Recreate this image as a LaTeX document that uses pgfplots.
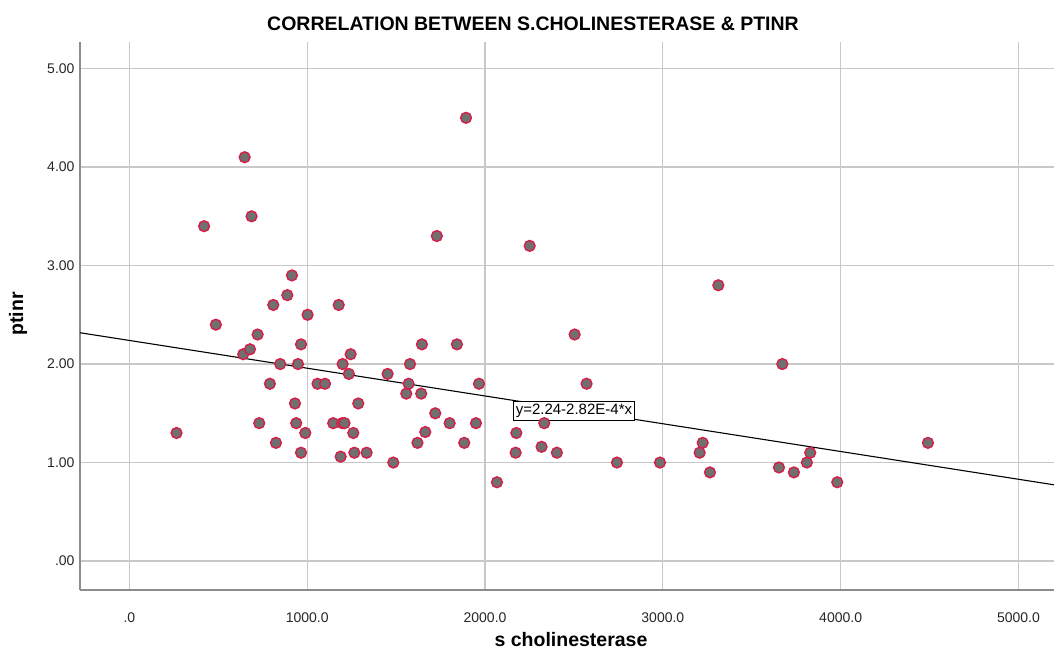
\documentclass[border=0pt]{standalone}
\usepackage{pgfplots}
\pgfplotsset{compat=1.18}
\usepackage{fontspec}
\setmainfont{Liberation Sans}
\definecolor{gridc}{RGB}{200,200,200}
\definecolor{axisc}{RGB}{140,140,140}
\definecolor{mfill}{RGB}{112,112,112}
\definecolor{medge}{RGB}{214,30,72}
\begin{document}
\begin{tikzpicture}[x=1pt,y=1pt]
\useasboundingbox (0,0) rectangle (1054,653);
\begin{axis}[
  at={(80pt,63pt)}, anchor=south west,
  scale only axis, width=974pt, height=548pt,
  xmin=-278, xmax=5200, ymin=-0.294, ymax=5.27,
  axis x line=bottom, axis y line=left,
  axis line style={-, draw=axisc, line width=1.5pt},
  xtick={0,1000,2000,3000,4000,5000},
  xticklabels={.0,1000.0,2000.0,3000.0,4000.0,5000.0},
  ytick={0,1,2,3,4,5},
  yticklabels={.00,1.00,2.00,3.00,4.00,5.00},
  /pgf/number format/assume math mode=true,
  major tick length=0pt,
  grid=major,
  major grid style={draw=gridc, line width=1.3pt},
  tick label style={font=\fontsize{14}{16}\selectfont, text=black!85},
  xticklabel style={yshift=-19pt},
  yticklabel style={xshift=-2pt},
  clip=false,
]
\addplot[black, line width=1.1pt] coordinates {(-278,2.318) (5200,0.774)};
\addplot[only marks, mark=*, mark size=5.4pt, mark options={fill=mfill, draw=medge, line width=1.4pt}] coordinates {
(265,1.30) (420,3.40) (486,2.40) (648,4.10) (640,2.10) (678,2.15) (687,3.50)
(721,2.30) (730,1.40) (790,1.80) (809,2.60) (824,1.20) (848,2.00) (888,2.70)
(914,2.90) (931,1.60) (938,1.40) (948,2.00) (965,2.20) (965,1.10) (989,1.30)
(1002,2.50) (1058,1.80) (1100,1.80) (1146,1.40) (1177,2.60) (1188,1.06)
(1197,1.40) (1199,2.00) (1210,1.40) (1234,1.90) (1244,2.10) (1259,1.30)
(1265,1.10) (1287,1.60) (1334,1.10) (1452,1.90) (1484,1.00) (1557,1.70)
(1570,1.80) (1578,2.00) (1620,1.20) (1641,1.70) (1645,2.20) (1664,1.31)
(1720,1.50) (1729,3.30) (1801,1.40) (1842,2.20) (1883,1.20) (1893,4.50)
(1949,1.40) (1966,1.80) (2067,0.80) (2172,1.10) (2176,1.30) (2251,3.20)
(2318,1.16) (2333,1.40) (2404,1.10) (2504,2.30) (2571,1.80) (2742,1.00)
(2984,1.00) (3207,1.10) (3224,1.20) (3265,0.90) (3312,2.80) (3653,0.95)
(3672,2.00) (3737,0.90) (3810,1.00) (3829,1.10) (3981,0.80) (4491,1.20)
};
\node[draw=black, fill=white, line width=0.9pt, inner sep=2.8pt, font=\fontsize{15}{17}\selectfont] at (axis cs:2500,1.528) {y=2.24-2.82E-4*x};
\end{axis}
\node[font=\bfseries\fontsize{19.5}{22}\selectfont] at (533,629) {CORRELATION BETWEEN S.CHOLINESTERASE \& PTINR};
\node[font=\bfseries\fontsize{19.5}{22}\selectfont] at (571,13) {s cholinesterase};
\node[font=\bfseries\fontsize{19.5}{22}\selectfont, rotate=90] at (18,339) {ptinr};
\end{tikzpicture}
\end{document}
